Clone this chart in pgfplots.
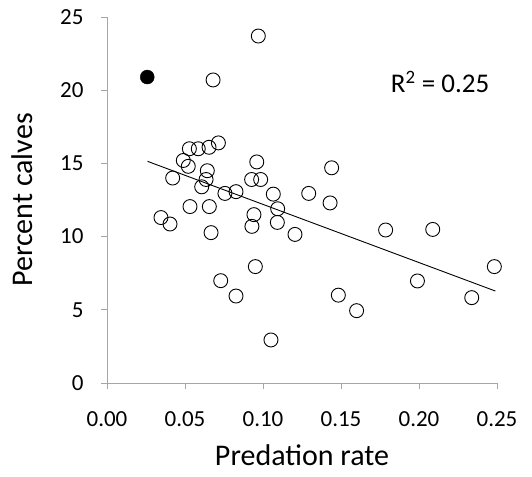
\documentclass[border=0pt]{standalone}
\usepackage{fontspec}
\setmainfont{Carlito}
\usepackage{pgfplots}
\pgfplotsset{compat=1.18}
\begin{document}
\begin{tikzpicture}
\useasboundingbox (-107pt,-93pt) rectangle (425pt,383pt);
\begin{axis}[
  at={(0,0)}, anchor=origin,
  scale only axis, width=390pt, height=366pt,
  xmin=0, xmax=0.25, ymin=0, ymax=25,
  axis lines=left, axis line style={-, draw=gray!70, line width=0.8pt},
  tick align=outside, major tick length=6pt,
  tick style={draw=gray!70, line width=0.8pt},
  xtick={0,0.05,0.1,0.15,0.2,0.25},
  ytick={0,5,10,15,20,25},
  xticklabel style={/pgf/number format/.cd, fixed, fixed zerofill, precision=2, /tikz/.cd, font=\fontsize{23}{26}\selectfont, yshift=-19pt},
  yticklabel style={font=\fontsize{23}{26}\selectfont, xshift=-14pt},
  /pgf/number format/assume math mode=true,
  scaled x ticks=false,
  xlabel={Predation rate}, ylabel={Percent calves},
  label style={font=\fontsize{30}{34}\selectfont},
  xlabel style={at={(axis description cs:0.5,-0.197)}, anchor=center},
  ylabel style={at={(axis description cs:-0.217,0.5)}, anchor=center},
  clip=false,
]
\addplot[black, line width=0.9pt] coordinates {(0.026,15.14) (0.249,6.28)};
\addplot[only marks, mark=o, mark size=7pt, mark options={line width=0.9pt, draw=black}] coordinates {
(0.097,23.7) (0.068,20.7) (0.0714,16.4) (0.0654,16.1) (0.0585,16.0) (0.0528,16.0)
(0.0489,15.2) (0.0521,14.8) (0.0421,14.0) (0.0643,14.5) (0.0635,13.9) (0.0607,13.4)
(0.096,15.1) (0.0927,13.9) (0.0985,13.9) (0.144,14.7) (0.0756,12.95) (0.0827,13.07)
(0.1066,12.9) (0.1293,12.95) (0.143,12.3) (0.1094,11.9) (0.0942,11.5) (0.0929,10.7)
(0.1092,10.97) (0.1205,10.15) (0.0532,12.05) (0.0656,12.05) (0.0346,11.3) (0.0404,10.86)
(0.0667,10.27) (0.1786,10.45) (0.2088,10.49) (0.2483,7.95) (0.0951,7.95) (0.0729,6.99)
(0.0827,5.94) (0.1483,6.0) (0.160,4.94) (0.199,6.97) (0.2338,5.83) (0.1051,2.94)
};
\addplot[only marks, mark=*, mark size=7pt, mark options={fill=black, draw=black}] coordinates {(0.0258,20.9)};
\node[font=\fontsize{27}{30}\selectfont, anchor=center] at (axis cs:0.2135,20.56) {R\textsuperscript{2} = 0.25};
\end{axis}
\end{tikzpicture}
\end{document}
